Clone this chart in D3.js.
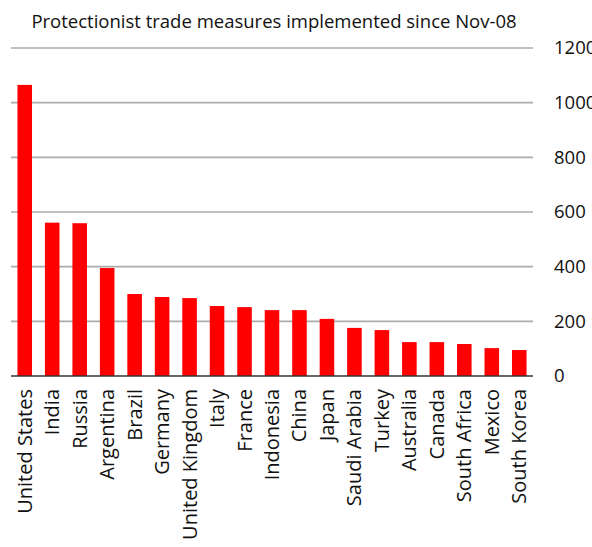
<!DOCTYPE html>
<html>
<head>
<meta charset="utf-8">
<script src="https://cdn.jsdelivr.net/npm/d3@7"></script>
<style>
  body { margin: 0; background: #fff; }
  text { font-family: "Open Sans", sans-serif; fill: #111; }
</style>
</head>
<body>
<div id="chart"></div>
<script>
// chart data
const countries = ["United States", "India", "Russia", "Argentina", "Brazil", "Germany",
    "United Kingdom", "Italy", "France", "Indonesia", "China", "Japan", "Saudi Arabia",
    "Turkey", "Australia", "Canada", "South Africa", "Mexico", "South Korea"];
const measures = [1065, 561, 559, 395, 300, 289, 285, 256, 252, 241, 241, 209, 176,
    168, 124, 124, 117, 102, 95];
const yTicks = [0, 200, 400, 600, 800, 1000, 1200];
const title = "Protectionist trade measures implemented since Nov-08";

const W = 592, H = 547;
const margin = {top: 48, right: 59, bottom: 171, left: 11};
const width = W - margin.left - margin.right,
    height = H - margin.top - margin.bottom;

const svg = d3.select("#chart")
    .append("svg")
    .attr("width", W)
    .attr("height", H);

svg.append("text")
    .attr("x", 274)
    .attr("y", 28)
    .attr("text-anchor", "middle")
    .style("font-size", "18.5px")
    .text(title);

const g = svg.append("g")
    .attr("transform", `translate(${margin.left},${margin.top})`);

const x = d3.scaleBand()
    .domain(countries)
    .range([0, width])
    .paddingInner(0.47)
    .paddingOuter(0.235);

const y = d3.scaleLinear()
    .domain([0, 1200])
    .range([height, 0]);

// gridlines
g.append("g")
    .selectAll("line")
    .data(yTicks.filter(d => d > 0))
    .join("line")
    .attr("x1", 0)
    .attr("x2", width)
    .attr("y1", d => y(d))
    .attr("y2", d => y(d))
    .attr("stroke", "#ababab")
    .attr("stroke-width", 1.6);

// bars
g.append("g")
    .selectAll("rect")
    .data(measures)
    .join("rect")
    .attr("x", (d, i) => x(countries[i]))
    .attr("y", d => y(d))
    .attr("width", x.bandwidth())
    .attr("height", d => height - y(d))
    .attr("fill", "#ff0000");

// baseline
g.append("line")
    .attr("x1", 0)
    .attr("x2", width)
    .attr("y1", height)
    .attr("y2", height)
    .attr("stroke", "#333")
    .attr("stroke-width", 1.6);

// right axis labels
const yAxis = g.append("g")
    .attr("transform", `translate(${width},0)`)
    .call(d3.axisRight(y).tickValues(yTicks).tickSize(0).tickPadding(21).tickFormat(d3.format("d")));
yAxis.select(".domain").remove();
yAxis.selectAll("text")
    .style("font-size", "18.5px")
    .style("font-family", "'Open Sans', sans-serif")
    .attr("fill", "#111");

// category labels
const xAxis = g.append("g")
    .attr("transform", `translate(0,${height})`)
    .call(d3.axisBottom(x).tickSize(0));
xAxis.select(".domain").remove();
xAxis.selectAll("text")
    .style("font-size", "20px")
    .style("font-family", "'Open Sans', sans-serif")
    .attr("fill", "#111")
    .attr("text-anchor", "end")
    .attr("transform", "rotate(-90)")
    .attr("x", -13)
    .attr("y", 0)
    .attr("dy", "0.35em");
</script>
</body>
</html>
